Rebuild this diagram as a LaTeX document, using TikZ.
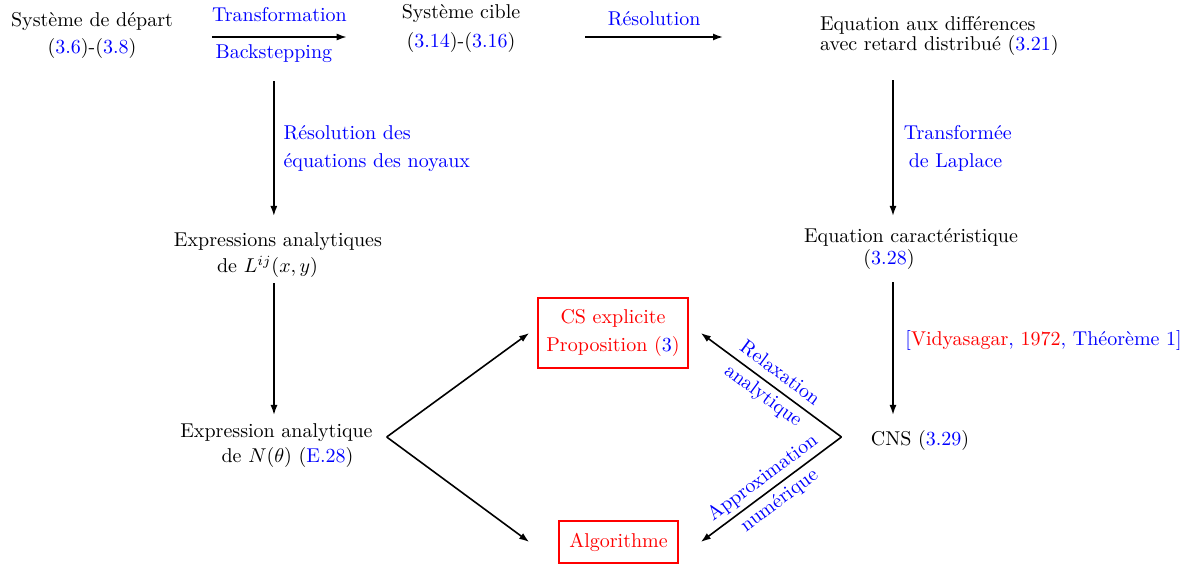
\documentclass[tikz,border=0pt]{standalone}
\usetikzlibrary{calc,arrows.meta}
\newcommand{\bref}[1]{\textcolor{blue}{#1}}
\begin{document}
\begin{tikzpicture}[x=0.5pt,y=-0.5pt,
  arr/.style={thick,-{Latex[length=5pt,width=3.5pt]}},
  lbl/.style={text=blue},
  txt/.style={align=center},
  box/.style={draw=red,thick,text=red,align=center}]
\useasboundingbox (0,0) rectangle (1191,567);

\node[txt] (dep) at (92,35) {Système de départ\\[1.5pt](\bref{3.6})-(\bref{3.8})};
\node[txt] (cible) at (461,28) {Système cible\\[2.5pt](\bref{3.14})-(\bref{3.16})};
\node[align=left,anchor=west] (eqdiff) at (813,35.5) {Equation aux différences\\[-2pt]avec retard distribué (\bref{3.21})};
\node[txt] (exprL) at (278,255.5) {Expressions analytiques\\[1pt]de $L^{ij}(x,y)$\hspace*{10.5pt}};
\node[txt] (eqcar) at (911,249.5) {Equation caractéristique\\[-1pt](\bref{3.28})\hspace*{22pt}};
\node[txt] (exprN) at (276.5,446) {Expression analytique\\[0.5pt]\hspace*{11pt}de $N(\theta)$ (\bref{E.28})};
\node (cns) at (920,440) {CNS (\bref{3.29})};
\node[box, minimum width=75pt, minimum height=35pt] (cs) at (613,333) {CS explicite\\[2pt]Proposition (\bref{3})};
\node[box, minimum width=59.5pt, minimum height=21pt] (alg) at (618.5,542) {Algorithme};

\draw[arr] ($(dep.east)+(16pt,-1pt)$) -- node[lbl,above=4pt]{Transformation} node[lbl,below,xshift=-2.75pt](bs){Backstepping} ($(dep.east -| cible.west)+(-24pt,-1pt)$);
\draw[arr] ($(cible.east)+(29pt,-4.5pt)$) -- node[lbl,above=1.65pt]{Résolution} ($(cible.east -| eqdiff.west)+(-45pt,-4.5pt)$);

\draw[arr] ($(bs.south)+(0pt,-5.7pt)$) -- node[lbl,right=1.15pt,align=left]{Résolution des\\[2pt]équations des noyaux} ($(bs.south |- exprL.north)+(0pt,5pt)$);
\draw[arr] ($(eqdiff.south -| eqcar.north)+(-9pt,-9pt)$) -- node[lbl,right=1.65pt,align=left]{Transformée\\[2pt]\hspace*{2.5pt}de Laplace} ($(eqcar.north)+(-9pt,3pt)$);

\draw[arr] ($(exprL.south)+(-2pt,1pt)$) -- ($(exprL.south |- exprN.north)+(-2pt,1pt)$);
\draw[arr] ($(eqcar.south)+(-9pt,-2.6pt)$) -- node[pos=0.44,right=2.5pt]{\bref{[}\textcolor{red}{Vidyasagar}\bref{, }\textcolor{red}{1972}\bref{, Théorème 1]}} ($(eqcar.south |- cns.north)+(-9pt,4pt)$);

\coordinate (vL) at ($(exprN.east)+(3.5pt,4.5pt)$);
\coordinate (vR) at ($(cns.west)+(-11.15pt,1.5pt)$);
\draw[arr] (vL) -- ($(cs.west)+(-4pt,0pt)$);
\draw[arr] (vL) -- ($(alg.west)+(-14.5pt,0pt)$);
\draw[arr] (vR) -- node[lbl,sloped,align=center]{Relaxation\\[2pt]analytique} ($(cs.east)+(6pt,0pt)$);
\draw[arr] (vR) -- node[lbl,sloped,align=center]{Approximation\\[2pt]numérique} ($(alg.east)+(11pt,0pt)$);
\end{tikzpicture}
\end{document}
